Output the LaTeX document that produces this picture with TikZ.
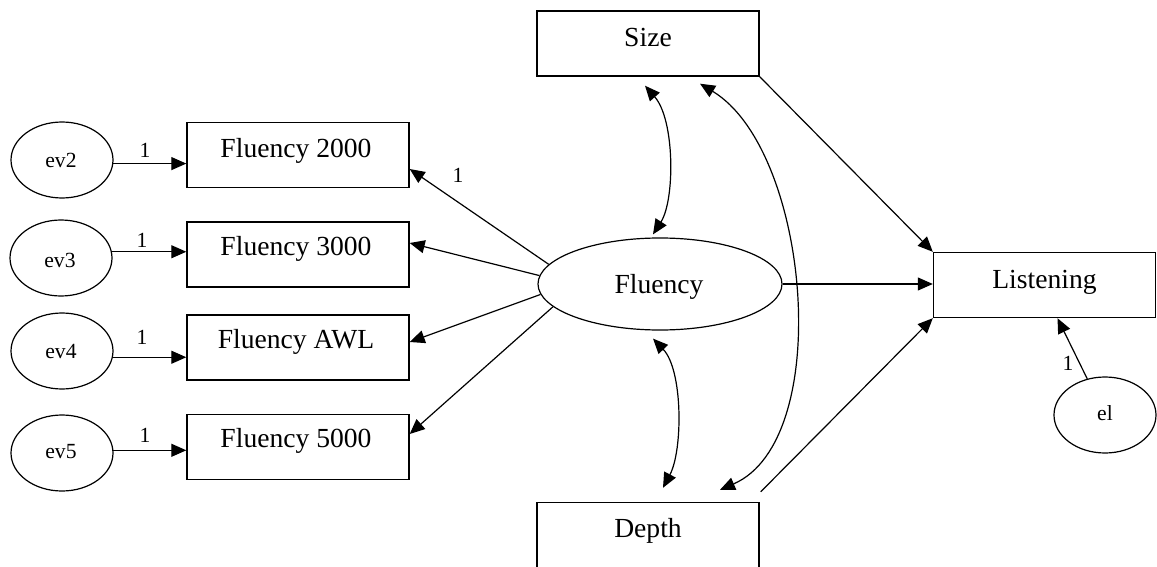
\documentclass[tikz,border=0pt]{standalone}
\usepackage{fontspec}
\setmainfont{Liberation Serif}
\usetikzlibrary{arrows.meta,calc,shapes.geometric}
\begin{document}
\begin{tikzpicture}[x=0.5pt,y=-0.5pt,
  box/.style={draw,line width=0.7pt,minimum width=111pt,minimum height=32.5pt,inner sep=0pt},
  ell/.style={draw,ellipse,line width=0.6pt,inner sep=0pt},
  big/.style={font=\fontsize{13.8}{16}\selectfont,anchor=base,inner sep=0pt},
  small/.style={font=\fontsize{10.8}{12}\selectfont,anchor=base,inner sep=0pt},
  arr/.style={line width=0.6pt,-{Triangle[length=7.5pt,width=6.5pt]}},
  darr/.style={line width=0.6pt,{Triangle[length=7.5pt,width=6.5pt]}-{Triangle[length=7.5pt,width=6.5pt]}}]
\useasboundingbox (0,0) rectangle (1157,567);
\clip (0,0) rectangle (1157,567);

% error ellipses
\node[ell,minimum width=51pt,minimum height=38pt] (ev2) at (62,160) {};
\node[ell,minimum width=51pt,minimum height=38pt] (ev3) at (61,258) {};
\node[ell,minimum width=51pt,minimum height=38pt] (ev4) at (62,351) {};
\node[ell,minimum width=51pt,minimum height=38pt] (ev5) at (62,453) {};
\node[small] (tev2) at (61,168) {ev2};
\node[small] (tev3) at (60,267) {ev3};
\node[small] (tev4) at (61,358) {ev4};
\node[small] (tev5) at (61,458) {ev5};

% indicator boxes
\node[box] (f2) at (298,155) {};
\node[box] (f3) at (298,254.5) {};
\node[box] (fa) at (298,347.5) {};
\node[box] (f5) at (298,447) {};
\node[big] (tf2) at (296,157) {Fluency 2000};
\node[big] (tf3) at (296,255) {Fluency 3000};
\node[big] (tfa) at (296,348) {Fluency AWL};
\node[big] (tf5) at (296,447) {Fluency 5000};

% latent and others
\node[box] (size) at (648,43.5) {};
\node[big] (tsize) at (648,47) {Size};
\node[box] (depth) at (648,535) {};
\node[big] (tdepth) at (648,537) {Depth};
\node[ell,minimum width=122pt,minimum height=46pt] (flu) at (660,284) {};
\node[big] (tflu) at (659,293) {Fluency};
\node[box] (list) at (1044.5,285) {};
\node[big] (tlist) at (1044.5,288) {Listening};
\node[ell,minimum width=51pt,minimum height=38pt] (el) at (1105,415) {};
\node[small] (tel) at (1105,420) {el};

% error arrows
\draw[arr] (ev2.-4.5) -- (ev2.-4.5 -| f2.west);
\draw[arr] (ev3.7) -- (ev3.7 -| f3.west);
\draw[arr] (ev4.-7) -- (ev4.-7 -| fa.west);
\draw[arr] (ev5.3.4) -- (ev5.3.4 -| f5.west);
\node[small] (l2) at (145,157) {1};
\node[small] (l3) at (142,247) {1};
\node[small] (l4) at (142,344) {1};
\node[small] (l5) at (145,442) {1};

% loadings
\draw[arr] (flu.170.5) -- ($(f2.east)+(0,14)$);
\draw[arr] (flu.176.3) -- ($(f3.east)+(0,-11.5)$);
\draw[arr] (flu.185) -- ($(fa.east)+(0,-5.5)$);
\draw[arr] (flu.192) -- ($(f5.east)+(0,-13)$);
\node[small] (lf) at (458,183) {1};

% structural paths
\draw[arr] (flu.east) -- (flu.east -| list.west);
\draw[arr] (size.south east) -- (list.north west);
\draw[arr] ($(depth.north east)+(1,-10)$) -- (list.south west);
\draw[arr] (el) -- ($(list.south)+(13,0)$);
\node[small] (lel) at (1068,370) {1};

% covariances
\draw[darr] ($(size.south)+(-3,9)$) .. controls (675,120) and (675,200) .. ($(flu.north)+(-7,-3)$);
\draw[darr] ($(flu.south)+(-7,8)$) .. controls (683,370) and (683,450) .. ($(depth.north)+(15,-14)$);
\draw[darr] ($(size.south)+(52,7)$) .. controls (810,150) and (835,440) .. ($(depth.north)+(72,-12)$);
\end{tikzpicture}
\end{document}
